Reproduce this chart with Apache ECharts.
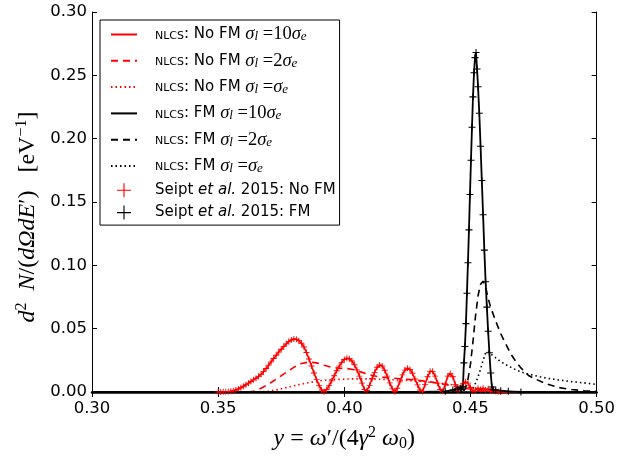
<!DOCTYPE html>
<html>
<head>
<meta charset="utf-8">
<script src="https://cdn.jsdelivr.net/npm/echarts@6/dist/echarts.min.js"></script>
<style>html,body{margin:0;padding:0;background:#fff;}#c{width:618px;height:460px;}</style>
</head>
<body>
<div id="c"></div>
<script>
// ---- data ----
const xTicks = [0.30, 0.35, 0.40, 0.45, 0.50];
const yTicks = [0.00, 0.05, 0.10, 0.15, 0.20, 0.25, 0.30];

// NLCS, no frequency modulation, sigma_l = 10 sigma_e
const noFM10 = [[0.300,0],[0.340,0],[0.350,0.0000],[0.351,0.0000],[0.352,0.0001],[0.353,0.0002],[0.354,0.0003],[0.355,0.0005],[0.356,0.0010],[0.357,0.0016],[0.358,0.0024],[0.359,0.0034],[0.360,0.0045],[0.361,0.0057],[0.362,0.0070],[0.363,0.0083],[0.364,0.0096],[0.365,0.0109],[0.366,0.0123],[0.367,0.0140],[0.368,0.0161],[0.369,0.0186],[0.370,0.0212],[0.371,0.0238],[0.372,0.0264],[0.373,0.0290],[0.374,0.0315],[0.375,0.0338],[0.376,0.0360],[0.377,0.0380],[0.378,0.0398],[0.379,0.0411],[0.380,0.0418],[0.381,0.0416],[0.382,0.0405],[0.383,0.0385],[0.384,0.0355],[0.385,0.0312],[0.386,0.0260],[0.387,0.0205],[0.388,0.0150],[0.389,0.0098],[0.390,0.0052],[0.391,0.0016],[0.392,0.0002],[0.393,0.0020],[0.394,0.0050],[0.395,0.0088],[0.396,0.0128],[0.397,0.0168],[0.398,0.0204],[0.399,0.0234],[0.400,0.0256],[0.401,0.0266],[0.402,0.0262],[0.403,0.0245],[0.404,0.0215],[0.405,0.0175],[0.406,0.0125],[0.407,0.0070],[0.408,0.0020],[0.409,0.0012],[0.410,0.0052],[0.411,0.0105],[0.412,0.0155],[0.413,0.0195],[0.414,0.0213],[0.415,0.0205],[0.416,0.0172],[0.417,0.0125],[0.418,0.0072],[0.419,0.0025],[0.420,0.0002],[0.421,0.0030],[0.422,0.0080],[0.423,0.0135],[0.424,0.0173],[0.425,0.0187],[0.426,0.0178],[0.427,0.0148],[0.428,0.0103],[0.429,0.0056],[0.430,0.0016],[0.431,0.0003],[0.432,0.0060],[0.433,0.0120],[0.434,0.0163],[0.435,0.0163],[0.436,0.0125],[0.437,0.0070],[0.438,0.0020],[0.439,0.0005],[0.440,0.0060],[0.441,0.0125],[0.442,0.0147],[0.443,0.0120],[0.444,0.0060],[0.445,0.0010],[0.446,0.0030],[0.447,0.0065],[0.448,0.0080],[0.449,0.0070],[0.450,0.0035],[0.451,0.0008],[0.452,0.0015],[0.453,0.0030],[0.454,0.0020],[0.455,0.0030],[0.456,0.0015],[0.457,0.0025],[0.458,0.0010],[0.459,0.0015],[0.460,0.0005],[0.461,0.0002],[0.462,0],[0.500,0]];

// NLCS, no FM, sigma_l = 2 sigma_e
const noFM2 = [[0.300,0],[0.362,0],[0.365,0.0010],[0.368,0.0040],[0.371,0.0075],[0.374,0.0115],[0.377,0.0155],[0.380,0.0195],[0.383,0.0225],[0.386,0.0237],[0.389,0.0230],[0.392,0.0212],[0.395,0.0195],[0.398,0.0188],[0.401,0.0185],[0.404,0.0175],[0.407,0.0155],[0.410,0.0135],[0.413,0.0122],[0.416,0.0115],[0.419,0.0110],[0.422,0.0105],[0.425,0.0100],[0.428,0.0095],[0.431,0.0088],[0.434,0.0080],[0.437,0.0070],[0.440,0.0060],[0.443,0.0048],[0.446,0.0036],[0.449,0.0025],[0.452,0.0015],[0.455,0.0008],[0.458,0.0003],[0.461,0],[0.500,0]];

// NLCS, no FM, sigma_l = sigma_e
const noFM1 = [[0.300,0],[0.366,0],[0.370,0.0006],[0.374,0.0020],[0.378,0.0040],[0.382,0.0058],[0.386,0.0075],[0.390,0.0088],[0.394,0.0096],[0.398,0.0100],[0.402,0.0103],[0.406,0.0104],[0.410,0.0103],[0.414,0.0101],[0.418,0.0098],[0.422,0.0094],[0.426,0.0090],[0.430,0.0085],[0.434,0.0078],[0.438,0.0070],[0.442,0.0060],[0.446,0.0048],[0.450,0.0035],[0.454,0.0022],[0.458,0.0012],[0.462,0.0005],[0.466,0],[0.500,0]];

// NLCS, with FM, sigma_l = 10 sigma_e
const fm10 = [[0.300,0],[0.430,0],[0.440,0.0005],[0.443,0.0015],[0.445,0.0030],[0.446,0.0030],[0.4465,0.0020],[0.4470,0.0040],[0.4474,0.0230],[0.4478,0.0360],[0.4482,0.0540],[0.4486,0.0780],[0.4490,0.1020],[0.4494,0.1280],[0.4498,0.1560],[0.4502,0.1830],[0.4506,0.2090],[0.4510,0.2330],[0.4514,0.2520],[0.4518,0.2640],[0.4522,0.2680],[0.4526,0.2550],[0.4530,0.2410],[0.4535,0.2200],[0.4540,0.1940],[0.4545,0.1670],[0.4550,0.1400],[0.4555,0.1120],[0.4560,0.0870],[0.4565,0.0670],[0.4570,0.0480],[0.4575,0.0310],[0.4580,0.0150],[0.4585,0.0040],[0.4590,0.0020],[0.4600,0.0015],[0.4620,0.0010],[0.4650,0.0005],[0.4700,0],[0.500,0]];

// NLCS, with FM, sigma_l = 2 sigma_e
const fm2 = [[0.300,0],[0.447,0],[0.448,0.0030],[0.449,0.0100],[0.450,0.0220],[0.451,0.0400],[0.452,0.0600],[0.453,0.0760],[0.454,0.0850],[0.455,0.0875],[0.456,0.0830],[0.457,0.0740],[0.458,0.0670],[0.460,0.0560],[0.462,0.0460],[0.464,0.0380],[0.466,0.0300],[0.468,0.0240],[0.470,0.0190],[0.473,0.0130],[0.476,0.0100],[0.480,0.0065],[0.485,0.0035],[0.490,0.0020],[0.495,0.0010],[0.500,0.0005]];

// NLCS, with FM, sigma_l = sigma_e
const fm1 = [[0.300,0],[0.449,0],[0.450,0.0005],[0.451,0.0030],[0.452,0.0070],[0.453,0.0120],[0.454,0.0180],[0.455,0.0250],[0.456,0.0310],[0.457,0.0320],[0.458,0.0300],[0.460,0.0270],[0.462,0.0240],[0.465,0.0205],[0.468,0.0175],[0.471,0.0152],[0.475,0.0132],[0.480,0.0110],[0.485,0.0095],[0.490,0.0082],[0.495,0.0072],[0.500,0.0060]];

// Seipt et al. 2015 reference points (lie on the sigma_l = 10 sigma_e curves)
const seiptNoFM = noFM10.slice(2, -1);
const seiptFM = fm10.slice(2, -1);

const names = [
  'NLCS: No FM σl=10σe', 'NLCS: No FM σl=2σe', 'NLCS: No FM σl=σe',
  'NLCS: FM σl=10σe', 'NLCS: FM σl=2σe', 'NLCS: FM σl=σe',
  'Seipt et al. 2015: No FM', 'Seipt et al. 2015: FM'
];
const legendRich = {};
legendRich[names[0]] = '{g| }{sc|NLCS}{n|: No FM }{mi|σ}{sub|l}{m| =10}{mi|σ}{sub|e}';
legendRich[names[1]] = '{g| }{sc|NLCS}{n|: No FM }{mi|σ}{sub|l}{m| =2}{mi|σ}{sub|e}';
legendRich[names[2]] = '{g| }{sc|NLCS}{n|: No FM }{mi|σ}{sub|l}{m| =}{mi|σ}{sub|e}';
legendRich[names[3]] = '{g| }{sc|NLCS}{n|: FM }{mi|σ}{sub|l}{m| =10}{mi|σ}{sub|e}';
legendRich[names[4]] = '{g| }{sc|NLCS}{n|: FM }{mi|σ}{sub|l}{m| =2}{mi|σ}{sub|e}';
legendRich[names[5]] = '{g| }{sc|NLCS}{n|: FM }{mi|σ}{sub|l}{m| =}{mi|σ}{sub|e}';
legendRich[names[6]] = '{g| }{n|Seipt }{it|et al.}{n| 2015: No FM}';
legendRich[names[7]] = '{g| }{n|Seipt }{it|et al.}{n| 2015: FM}';

const plusSym = 'path://M0,8.5H20V11.5H0Z M8.5,0H11.5V20H8.5Z';
const plusLegend = 'path://M0,9.2H20V10.8H0Z M9.2,0H10.8V20H9.2Z';

const chart = echarts.init(document.getElementById('c'), null, {renderer: 'canvas'});

function lineSeries(name, data, color, type, width) {
  return {
    name: name, type: 'line', data: data, symbol: 'none', animation: false,
    lineStyle: {color: color, width: width, type: type},
    itemStyle: {color: color}, z: 2
  };
}

const serif = 'Liberation Serif';
const axisCommon = {
  axisLine: {show: true, lineStyle: {color: '#000', width: 1}},
  axisTick: {show: true, inside: true, length: 5, lineStyle: {color: '#000', width: 1}},
  splitLine: {show: false}
};
const nameRich = {
  i: {fontFamily: serif, fontStyle: 'italic', fontSize: 24, lineHeight: 27},
  r: {fontFamily: serif, fontSize: 24, lineHeight: 27},
  sup: {fontFamily: serif, fontSize: 16, lineHeight: 16, verticalAlign: 'top'},
  sub: {fontFamily: serif, fontSize: 16, lineHeight: 16, verticalAlign: 'bottom'}
};

const option = {
  backgroundColor: '#fff',
  animation: false,
  grid: {left: 92, right: 17, top: 12, bottom: 68, containLabel: false},
  legend: {
    orient: 'vertical', left: 100, top: 20,
    padding: [5, 4, 5, 10],
    itemWidth: 26, itemHeight: 14, itemGap: 7.3,
    borderColor: '#000', borderWidth: 1, backgroundColor: '#fff',
    selectedMode: false,
    data: names.map((n, i) => i < 6 ? {name: n, itemStyle: {opacity: 0}} : {name: n, icon: plusLegend}),
    formatter: n => legendRich[n],
    textStyle: {
      color: '#000', fontFamily: 'DejaVu Sans', fontSize: 15,
      rich: {
        g: {width: 13, fontSize: 15, lineHeight: 18},
        sc: {fontFamily: 'DejaVu Sans', fontSize: 11, lineHeight: 18, verticalAlign: 'bottom', padding: [0,0,2,0]},
        n: {fontFamily: 'DejaVu Sans', fontSize: 15, lineHeight: 18},
        it: {fontFamily: 'DejaVu Sans', fontStyle: 'italic', fontSize: 15, lineHeight: 18},
        mi: {fontFamily: serif, fontStyle: 'italic', fontSize: 18.5, lineHeight: 18},
        m: {fontFamily: serif, fontSize: 18.5, lineHeight: 18},
        sub: {fontFamily: serif, fontStyle: 'italic', fontSize: 13, lineHeight: 12, verticalAlign: 'bottom'}
      }
    }
  },
  xAxis: [
    Object.assign({
      type: 'value', min: 0.30, max: 0.50, interval: 0.05, position: 'bottom',
      axisLabel: {formatter: v => v.toFixed(2), color: '#000', fontFamily: 'DejaVu Sans', fontSize: 16.5, margin: 8},
      name: '{i|y}{r| = }{i|ω}{r|′/(4}{i|γ}{sup|2}{i| ω}{sub|0}{r|)}',
      nameLocation: 'middle', nameGap: 33,
      nameTextStyle: {color: '#000', fontFamily: serif, fontSize: 24, rich: nameRich}
    }, axisCommon, {axisLine: {show: true, lineStyle: {color: '#000', width: 2.5}}}),
    Object.assign({
      type: 'value', min: 0.30, max: 0.50, interval: 0.05, position: 'top',
      axisLabel: {show: false}
    }, axisCommon)
  ],
  yAxis: [
    Object.assign({
      type: 'value', min: 0, max: 0.30, interval: 0.05, position: 'left',
      axisLabel: {formatter: v => v.toFixed(2), color: '#000', fontFamily: 'DejaVu Sans', fontSize: 16.5, margin: 5},
      name: '{i|d}{sup|2}{i|  N}{r|/(}{i|d}{i|Ω}{i|dE}{r|′)   [eV}{sup|−1}{r|]}',
      nameLocation: 'middle', nameGap: 42, nameRotate: 90,
      nameTextStyle: {color: '#000', fontFamily: serif, fontSize: 24, rich: nameRich, padding: [0, 30, 0, 0]}
    }, axisCommon),
    Object.assign({
      type: 'value', min: 0, max: 0.30, interval: 0.05, position: 'right',
      axisLabel: {show: false}
    }, axisCommon)
  ],
  series: [
    lineSeries(names[0], noFM10, '#ff0000', 'solid', 1.6),
    lineSeries(names[1], noFM2, '#ff0000', [7, 5], 1.6),
    lineSeries(names[2], noFM1, '#ff0000', [1.5, 3], 1.6),
    lineSeries(names[3], fm10, '#000000', 'solid', 1.8),
    lineSeries(names[4], fm2, '#000000', [7, 5], 1.6),
    lineSeries(names[5], fm1, '#000000', [1.5, 3], 1.6),
    {
      name: names[6], type: 'scatter', data: seiptNoFM, symbol: plusSym, symbolSize: 6,
      itemStyle: {color: '#ff0000', opacity: 1}, z: 3, animation: false
    },
    {
      name: names[7], type: 'scatter', data: seiptFM, symbol: plusSym, symbolSize: 7,
      itemStyle: {color: '#000000', opacity: 1}, z: 4, animation: false
    }
  ]
};
chart.setOption(option);
</script>
</body>
</html>
